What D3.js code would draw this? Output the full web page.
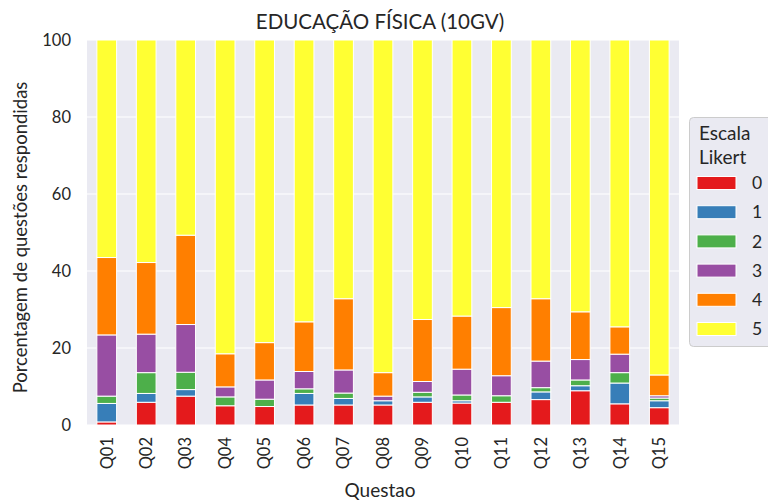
<!DOCTYPE html>
<html><head><meta charset="utf-8">
<script src="https://cdn.jsdelivr.net/npm/d3@7"></script>
<style>body{margin:0;background:#fff}svg{display:block}text{font-family:Lato,"DejaVu Sans",sans-serif;fill:#262626}</style>
</head><body>
<script>
const categories = ["Q01","Q02","Q03","Q04","Q05","Q06","Q07","Q08","Q09","Q10","Q11","Q12","Q13","Q14","Q15"];
const levels = ["0","1","2","3","4","5"];
const s0 = [0.8,5.9,7.5,5.0,4.8,5.2,5.2,5.2,5.9,5.7,5.9,6.6,8.9,5.5,4.5];
const s1 = [4.8,2.3,1.7,0.0,0.0,3.0,1.7,1.1,1.4,0.6,0.0,2.0,1.3,5.4,1.8];
const s2 = [1.9,5.4,4.5,2.3,1.9,1.2,1.4,0.0,1.2,1.5,1.7,1.1,1.5,2.7,0.7];
const s3 = [15.9,10.0,12.4,2.6,5.0,4.5,6.0,1.2,2.8,6.7,5.2,6.9,5.3,4.8,0.6];
const s4 = [20.1,18.6,23.2,8.6,9.7,12.9,18.5,6.1,16.1,13.8,17.7,16.2,12.4,7.1,5.4];
const s5 = categories.map((c,i)=>100-(s0[i]+s1[i]+s2[i]+s3[i]+s4[i]));
const series = [s0,s1,s2,s3,s4,s5];
const colors = ["#e41a1c","#377eb8","#4daf4a","#984ea3","#ff7f00","#ffff33"];
const yTicks = [0,20,40,60,80,100];

const W=768,H=504;
const m={l:87,r:89,t:40,b:79};
const svg=d3.select("body").append("svg").attr("width",W).attr("height",H);
const x=d3.scaleBand().domain(categories).range([m.l,W-m.r]).paddingInner(0.5).paddingOuter(0.25);
const y=d3.scaleLinear().domain([0,100]).range([H-m.b,m.t]);

svg.append("rect").attr("x",m.l).attr("y",m.t).attr("width",W-m.r-m.l).attr("height",H-m.b-m.t).attr("fill","#eaeaf2");
svg.append("g").selectAll("line").data(yTicks).join("line")
  .attr("x1",m.l).attr("x2",W-m.r).attr("y1",d=>y(d)).attr("y2",d=>y(d)).attr("stroke","#fff").attr("stroke-width",1.2);
svg.append("g").selectAll("line").data(categories).join("line")
  .attr("x1",d=>x(d)+x.bandwidth()/2).attr("x2",d=>x(d)+x.bandwidth()/2).attr("y1",m.t).attr("y2",H-m.b).attr("stroke","#fff").attr("stroke-width",1.2);

const table=categories.map((c,i)=>{const o={cat:c};levels.forEach((l,j)=>o[l]=series[j][i]);return o;});
const stacked=d3.stack().keys(levels)(table);
svg.append("g").selectAll("g").data(stacked).join("g").attr("fill",(d,i)=>colors[i])
  .selectAll("rect").data(d=>d).join("rect")
  .attr("x",d=>x(d.data.cat)).attr("width",x.bandwidth())
  .attr("y",d=>y(d[1])).attr("height",d=>Math.max(0,y(d[0])-y(d[1])))
  .attr("stroke","#fff").attr("stroke-width",1);

const ya=svg.append("g").attr("transform",`translate(${m.l},0)`).call(d3.axisLeft(y).tickValues(yTicks).tickSize(0).tickPadding(16));
ya.select(".domain").remove();
ya.selectAll("text").attr("font-size",16.5).style("font-family","Lato,sans-serif");
const xa=svg.append("g").attr("transform",`translate(0,${H-m.b})`).call(d3.axisBottom(x).tickSize(0));
xa.select(".domain").remove();
xa.selectAll("text").attr("font-size",16.5).attr("transform","rotate(-90)").attr("text-anchor","end")
  .attr("x",-12).attr("y",0).attr("dy","0.35em").style("font-family","Lato,sans-serif");

svg.append("text").attr("x",(m.l+W-m.r)/2-3).attr("y",29).attr("text-anchor","middle").attr("font-size",20.5).text("EDUCAÇÃO FÍSICA (10GV)");
svg.append("text").attr("x",(m.l+W-m.r)/2-3).attr("y",497).attr("text-anchor","middle").attr("font-size",19).text("Questao");
svg.append("text").attr("transform",`translate(27,${(m.t+H-m.b)/2+5}) rotate(-90)`).attr("text-anchor","middle").attr("font-size",18.5).text("Porcentagem de questões respondidas");

const lg=svg.append("g");
lg.append("rect").attr("x",689.5).attr("y",117.5).attr("width",90).attr("height",229).attr("rx",4).attr("fill","#eaeaf2").attr("stroke","#cccccc");
lg.append("text").attr("x",699).attr("y",140).attr("font-size",19).text("Escala");
lg.append("text").attr("x",699).attr("y",164).attr("font-size",19).text("Likert");
const rows=lg.selectAll("g.row").data(levels).join("g").attr("class","row")
  .attr("transform",(d,i)=>`translate(0,${183+i*29.2})`);
rows.append("rect").attr("x",697).attr("y",-6.5).attr("width",39).attr("height",13).attr("fill",(d,i)=>colors[i]).attr("stroke","#fff");
rows.append("text").attr("x",752).attr("y",0).attr("dy","0.35em").attr("font-size",17.5).text(d=>d);
</script>
</body></html>
